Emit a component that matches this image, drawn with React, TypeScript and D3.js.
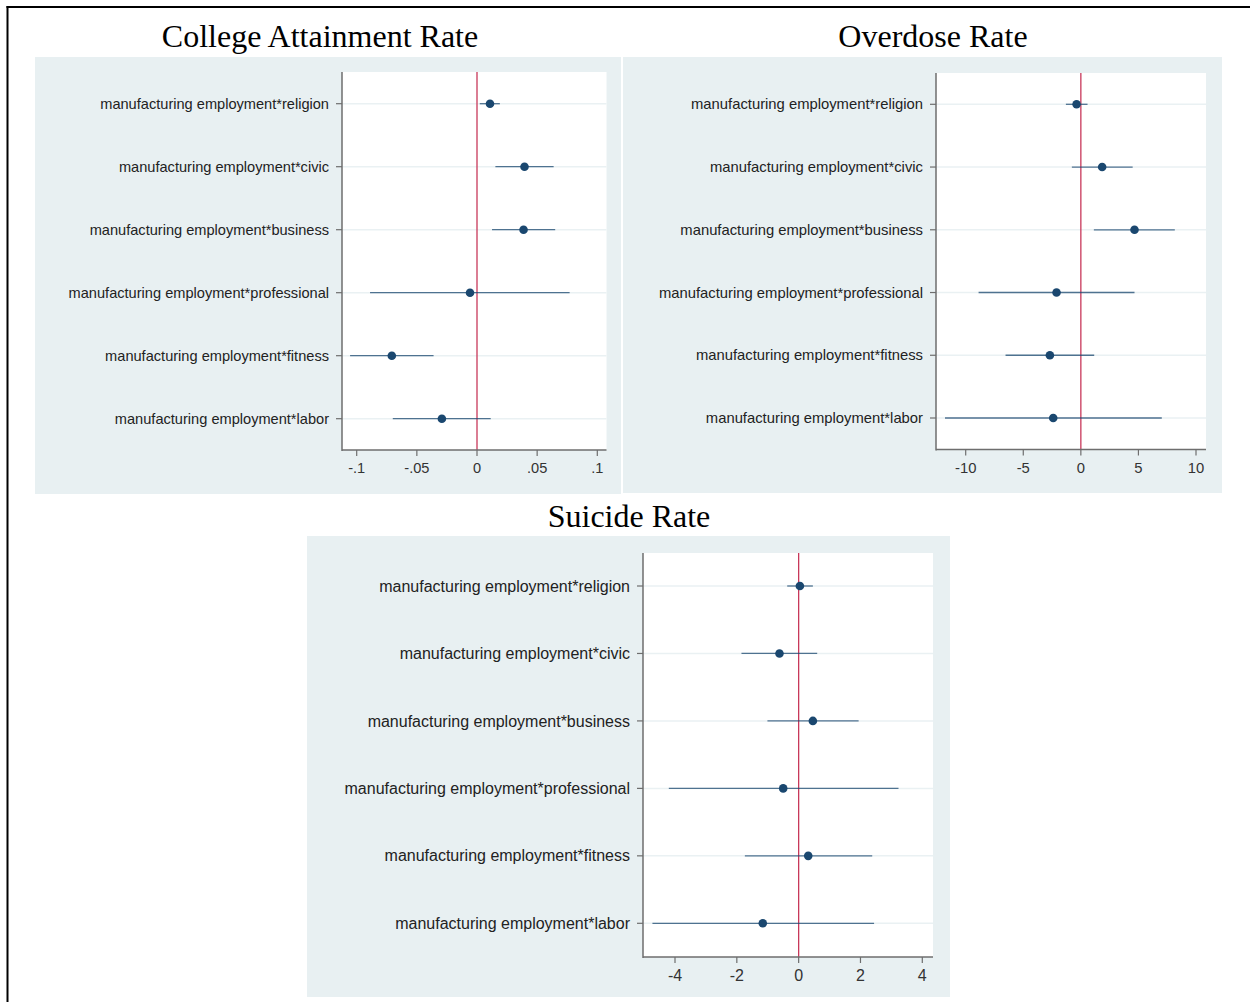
import React from 'react';
import * as d3 from 'd3';

// Coefficient plots (Stata-style): point estimate + 95% CI per interaction term
const categories = [
  'manufacturing employment*religion',
  'manufacturing employment*civic',
  'manufacturing employment*business',
  'manufacturing employment*professional',
  'manufacturing employment*fitness',
  'manufacturing employment*labor',
];

const collegeEst = [0.0108, 0.0395, 0.0387, -0.0058, -0.0708, -0.0292];
const collegeLo = [0.0023, 0.0153, 0.0125, -0.0889, -0.1055, -0.07];
const collegeHi = [0.019, 0.0637, 0.065, 0.077, -0.0361, 0.0114];
const collegeTicks = [-0.1, -0.05, 0, 0.05, 0.1];
const collegeTickLabels = ['-.1', '-.05', '0', '.05', '.1'];

const overdoseEst = [-0.37, 1.85, 4.66, -2.11, -2.69, -2.4];
const overdoseLo = [-1.3, -0.78, 1.13, -8.88, -6.54, -11.8];
const overdoseHi = [0.58, 4.5, 8.16, 4.66, 1.16, 7.03];
const overdoseTicks = [-10, -5, 0, 5, 10];
const overdoseTickLabels = ['-10', '-5', '0', '5', '10'];

const suicideEst = [0.04, -0.62, 0.46, -0.5, 0.31, -1.16];
const suicideLo = [-0.37, -1.85, -1.01, -4.2, -1.74, -4.73];
const suicideHi = [0.46, 0.6, 1.94, 3.23, 2.38, 2.44];
const suicideTicks = [-4, -2, 0, 2, 4];
const suicideTickLabels = ['-4', '-2', '0', '2', '4'];

const NAVY = '#1a476f';
const BG = '#e8f0f2';
const SANS = '"Liberation Sans", Arial, sans-serif';
const SERIF = '"Liberation Serif", "Times New Roman", serif';

type Box = { x0: number; x1: number; y0: number; y1: number };

interface PanelProps {
  title: string;
  titleX: number;
  titleY: number;
  bg: Box;
  plot: Box;
  fontSize: number;
  ticks: number[];
  tickLabels: string[];
  tickPx: [number, number];
  rowPx: [number, number];
  est: number[];
  lo: number[];
  hi: number[];
}

function Panel(p: PanelProps) {
  const x = d3.scaleLinear()
    .domain([p.ticks[0], p.ticks[p.ticks.length - 1]])
    .range(p.tickPx);
  const y = d3.scalePoint<string>().domain(categories).range(p.rowPx);
  const rows = categories.map((c, i) => ({ c, est: p.est[i], lo: p.lo[i], hi: p.hi[i] }));

  return (
    <g>
      <text x={p.titleX} y={p.titleY} textAnchor="middle" fontFamily={SERIF} fontSize={32} fill="#000">
        {p.title}
      </text>
      <rect x={p.bg.x0} y={p.bg.y0} width={p.bg.x1 - p.bg.x0} height={p.bg.y1 - p.bg.y0} fill={BG} />
      <rect x={p.plot.x0} y={p.plot.y0} width={p.plot.x1 - p.plot.x0} height={p.plot.y1 - p.plot.y0} fill="#fff" />

      {/* grid */}
      {rows.map(r => (
        <line key={'g' + r.c} x1={p.plot.x0} x2={p.plot.x1} y1={y(r.c)} y2={y(r.c)} stroke="#eaf1f3" strokeWidth={1.5} />
      ))}

      {/* zero line */}
      <line x1={x(0)} x2={x(0)} y1={p.plot.y0} y2={p.plot.y1} stroke="#c8385a" strokeWidth={1.3} />

      {/* CIs and points */}
      {rows.map(r => (
        <g key={'d' + r.c}>
          <line x1={x(r.lo)} x2={x(r.hi)} y1={y(r.c)} y2={y(r.c)} stroke={NAVY} strokeOpacity={0.75} strokeWidth={1.3} />
          <circle cx={x(r.est)} cy={y(r.c)} r={4.3} fill={NAVY} />
        </g>
      ))}

      {/* y axis */}
      <line x1={p.plot.x0} x2={p.plot.x0} y1={p.plot.y0} y2={p.plot.y1 + 1} stroke="#6e6e6e" strokeWidth={1.5} />
      {rows.map(r => (
        <g key={'y' + r.c}>
          <line x1={p.plot.x0 - 6} x2={p.plot.x0} y1={y(r.c)} y2={y(r.c)} stroke="#6e6e6e" strokeWidth={1.2} />
          <text x={p.plot.x0 - 13} y={y(r.c)} dy="0.35em" textAnchor="end" fontFamily={SANS} fontSize={p.fontSize} fill="#222">
            {r.c}
          </text>
        </g>
      ))}

      {/* x axis */}
      <line x1={p.plot.x0} x2={p.plot.x1} y1={p.plot.y1} y2={p.plot.y1} stroke="#6e6e6e" strokeWidth={1.5} />
      {p.ticks.map((t, i) => (
        <g key={'x' + t}>
          <line x1={x(t)} x2={x(t)} y1={p.plot.y1} y2={p.plot.y1 + 6} stroke="#6e6e6e" strokeWidth={1.2} />
          <text x={x(t)} y={p.plot.y1 + 18} dy="0.35em" textAnchor="middle" fontFamily={SANS} fontSize={p.fontSize} fill="#333">
            {p.tickLabels[i]}
          </text>
        </g>
      ))}
    </g>
  );
}

export default function App() {
  return (
    <div style={{ position: 'absolute', left: 0, top: 0 }}>
      <svg width={1250} height={1002} style={{ display: 'block', background: '#fff' }}>
        <line x1={6.5} x2={1250} y1={7} y2={7} stroke="#000" strokeWidth={2} />
        <line x1={7.5} x2={7.5} y1={6} y2={1002} stroke="#000" strokeWidth={2} />

        <Panel
          title="College Attainment Rate" titleX={320} titleY={47}
          bg={{ x0: 35, x1: 621, y0: 57, y1: 494 }}
          plot={{ x0: 342, x1: 606.5, y0: 72, y1: 450 }}
          fontSize={14.6}
          ticks={collegeTicks} tickLabels={collegeTickLabels} tickPx={[356.7, 597.3]}
          rowPx={[103.7, 418.7]}
          est={collegeEst} lo={collegeLo} hi={collegeHi}
        />
        <Panel
          title="Overdose Rate" titleX={933} titleY={47}
          bg={{ x0: 623, x1: 1222, y0: 57, y1: 493 }}
          plot={{ x0: 936, x1: 1206, y0: 73, y1: 449.5 }}
          fontSize={14.8}
          ticks={overdoseTicks} tickLabels={overdoseTickLabels} tickPx={[965.7, 1196]}
          rowPx={[104.3, 418]}
          est={overdoseEst} lo={overdoseLo} hi={overdoseHi}
        />
        <Panel
          title="Suicide Rate" titleX={629} titleY={527}
          bg={{ x0: 307, x1: 950, y0: 536, y1: 997 }}
          plot={{ x0: 643, x1: 933, y0: 553, y1: 957 }}
          fontSize={16}
          ticks={suicideTicks} tickLabels={suicideTickLabels} tickPx={[675, 922.3]}
          rowPx={[586, 923.3]}
          est={suicideEst} lo={suicideLo} hi={suicideHi}
        />
      </svg>
    </div>
  );
}
